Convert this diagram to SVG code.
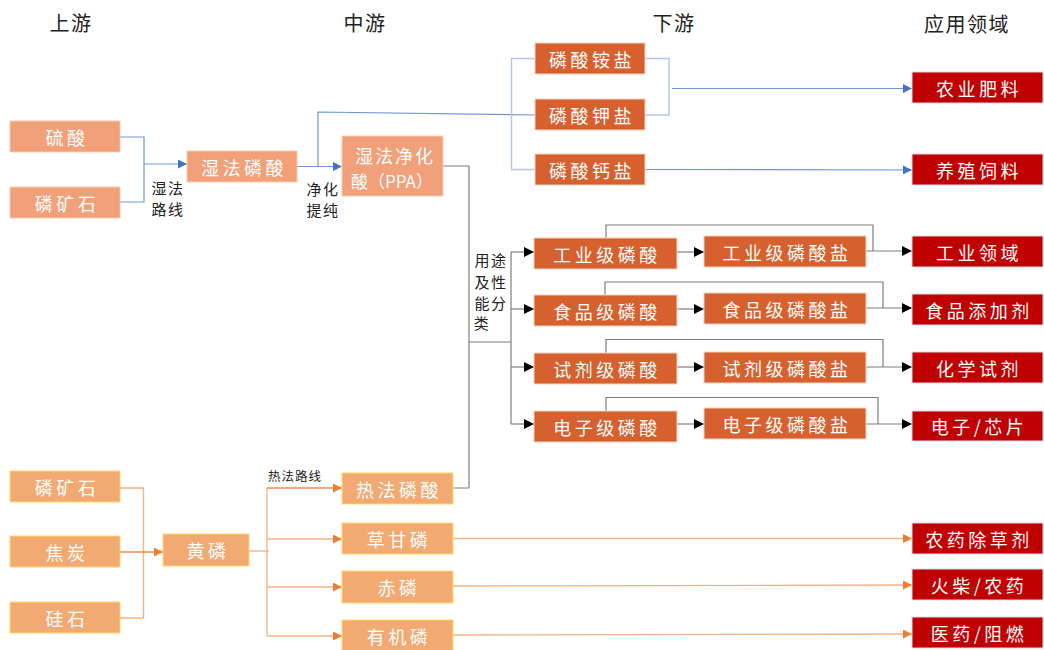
<svg xmlns="http://www.w3.org/2000/svg" width="1044" height="650" viewBox="0 0 1044 650">
<defs>
<style>
text{font-family:"Noto Sans CJK SC","Noto Sans",sans-serif;dominant-baseline:central;}
.hdr{font-size:20px;fill:#222;text-anchor:middle;letter-spacing:1.5px;}
.bt{font-size:18px;fill:#fff;text-anchor:middle;letter-spacing:3.5px;}
.lbl{font-size:15px;fill:#222;text-anchor:middle;letter-spacing:1.5px;}
.up1{fill:#F1A07A;stroke:#F8CBAD;stroke-width:1;}
.up2{fill:#F2AA72;stroke:#FFD966;stroke-width:1;}
.mid{fill:#D6612E;stroke:#F0D2C2;stroke-width:1;}
.app{fill:#C00000;stroke:#D9D9F0;stroke-width:1;}
.cb{fill:none;stroke:#6F95D6;stroke-width:1.2;}
.cbl{fill:none;stroke:#B4C7E7;stroke-width:1.5;}
.cg{fill:none;stroke:#7F7F7F;stroke-width:1.2;}
.co{fill:none;stroke:#F4B183;stroke-width:1.3;}
.com{fill:none;stroke:#F08A4B;stroke-width:1.3;}
</style>
<marker id="ab" viewBox="0 0 10 10" refX="10" refY="5" markerWidth="9" markerHeight="9" markerUnits="userSpaceOnUse" orient="auto"><path d="M0,0 L10,5 L0,10 z" fill="#4472C4"/></marker>
<marker id="ak" viewBox="0 0 10 10" refX="10" refY="5" markerWidth="10" markerHeight="10" markerUnits="userSpaceOnUse" orient="auto"><path d="M0,0 L10,5 L0,10 z" fill="#000"/></marker>
<marker id="ao" viewBox="0 0 10 10" refX="10" refY="5" markerWidth="9" markerHeight="9" markerUnits="userSpaceOnUse" orient="auto"><path d="M0,0 L10,5 L0,10 z" fill="#ED7D31"/></marker>
</defs>
<rect width="1044" height="650" fill="#fff"/>

<g id="headers">
<text class="hdr" x="71" y="22">上游</text>
<text class="hdr" x="365" y="22">中游</text>
<text class="hdr" x="674" y="22">下游</text>
<text class="hdr" x="967" y="23">应用领域</text>
</g>

<g id="connectors">
<polyline class="cb" points="120,137 144,137 144,202 120,202"/>
<line class="cb" x1="144" y1="164" x2="187" y2="164" marker-end="url(#ab)"/>
<line class="cb" x1="297" y1="166.5" x2="342" y2="166.5" marker-end="url(#ab)"/>
<polyline class="cb" points="318,166.5 318,112 535,115"/>
<polyline class="cbl" points="535,58.5 511.5,58.5 511.5,169.5 535,169.5"/>
<polyline class="cbl" points="645,58.5 669,58.5 669,115 645,115"/>
<line class="cb" x1="672" y1="88.5" x2="912" y2="88.5" stroke="#4472C4" marker-end="url(#ab)"/>
<line class="cb" x1="645" y1="169.5" x2="912" y2="170" marker-end="url(#ab)"/>

<polyline class="cg" points="443,166 469,166 469,488 453,488"/>
<line class="cg" x1="469" y1="342" x2="511" y2="342"/>
<line class="cg" x1="511" y1="252" x2="511" y2="424"/>
<line class="cg" x1="511" y1="252" x2="534" y2="252" marker-end="url(#ak)"/>
<line class="cg" x1="511" y1="309" x2="534" y2="309" marker-end="url(#ak)"/>
<line class="cg" x1="511" y1="367" x2="534" y2="367" marker-end="url(#ak)"/>
<line class="cg" x1="511" y1="424" x2="534" y2="424" marker-end="url(#ak)"/>
<line class="cg" x1="677" y1="252" x2="704" y2="252" marker-end="url(#ak)"/>
<line class="cg" x1="677" y1="309" x2="704" y2="309" marker-end="url(#ak)"/>
<line class="cg" x1="677" y1="367" x2="704" y2="367" marker-end="url(#ak)"/>
<line class="cg" x1="677" y1="424" x2="704" y2="424" marker-end="url(#ak)"/>
<polyline class="cg" points="606,238 606,225 873,225 873,251"/>
<line class="cg" x1="866" y1="251" x2="912" y2="251" marker-end="url(#ak)"/>
<polyline class="cg" points="605,295 605,282 883,282 883,308"/>
<line class="cg" x1="866" y1="308" x2="912" y2="308" marker-end="url(#ak)"/>
<polyline class="cg" points="606,353 606,339.5 883,339.5 883,367"/>
<line class="cg" x1="866" y1="367" x2="912" y2="367" marker-end="url(#ak)"/>
<polyline class="cg" points="606,411 606,397.5 878,397.5 878,424"/>
<line class="cg" x1="866" y1="424" x2="912" y2="424" marker-end="url(#ak)"/>

<polyline class="co" points="120,488 143.5,488 143.5,618 120,618"/>
<line class="com" x1="120" y1="552" x2="163" y2="552" marker-end="url(#ao)"/>
<line class="co" x1="249" y1="551" x2="269" y2="551"/>
<line class="co" x1="267" y1="488" x2="267" y2="636"/>
<line class="com" x1="267" y1="488" x2="342" y2="488" marker-end="url(#ao)"/>
<line class="co" x1="267" y1="539" x2="342" y2="539" marker-end="url(#ao)"/>
<line class="co" x1="267" y1="587" x2="342" y2="587" marker-end="url(#ao)"/>
<line class="co" x1="267" y1="636" x2="342" y2="636" marker-end="url(#ao)"/>
<line class="co" x1="453" y1="538.5" x2="912" y2="538.5" marker-end="url(#ao)"/>
<line class="co" x1="453" y1="586" x2="912" y2="585" marker-end="url(#ao)"/>
<line class="co" x1="453" y1="635" x2="912" y2="634" marker-end="url(#ao)"/>
</g>

<g id="labels">
<text class="lbl" x="168" y="187">湿法</text>
<text class="lbl" x="168" y="208">路线</text>
<text class="lbl" x="323" y="188">净化</text>
<text class="lbl" x="323" y="209">提纯</text>
<text class="lbl" x="491" y="259">用途</text>
<text class="lbl" x="491" y="281">及性</text>
<text class="lbl" x="491" y="302">能分</text>
<text class="lbl" x="482" y="322">类</text>
<text x="268" y="475" style="font-size:12.5px;fill:#222;letter-spacing:1px;">热法路线</text>
</g>

<g id="n-liusuan"><rect class="up1" x="10" y="121" width="110" height="31"/><text class="bt" x="67" y="137">硫酸</text></g>
<g id="n-linkuangshi-1"><rect class="up1" x="10" y="187" width="110" height="31"/><text class="bt" x="67" y="203">磷矿石</text></g>
<g id="n-shifalinsuan"><rect class="up1" x="187" y="151" width="110" height="31"/><text class="bt" x="244" y="167">湿法磷酸</text></g>
<g id="n-ppa"><rect class="up1" x="342" y="136" width="101" height="60"/><text class="bt" x="395" y="155" style="letter-spacing:2px">湿法净化</text><text x="392" y="180" style="font-size:17px;fill:#fff;text-anchor:middle;">酸（PPA）</text></g>

<g id="n-linsuananyan"><rect class="mid" x="535" y="43" width="110" height="31"/><text class="bt" x="592" y="59">磷酸铵盐</text></g>
<g id="n-linsuanjiayan"><rect class="mid" x="535" y="99" width="110" height="31"/><text class="bt" x="592" y="115">磷酸钾盐</text></g>
<g id="n-linsuangaiyan"><rect class="mid" x="535" y="154" width="110" height="31"/><text class="bt" x="592" y="170">磷酸钙盐</text></g>

<g id="n-gongye-ls"><rect class="mid" x="534" y="238" width="143" height="31"/><text class="bt" x="607" y="254">工业级磷酸</text></g>
<g id="n-shipin-ls"><rect class="mid" x="534" y="295" width="143" height="31"/><text class="bt" x="607" y="311">食品级磷酸</text></g>
<g id="n-shiji-ls"><rect class="mid" x="534" y="353" width="143" height="31"/><text class="bt" x="607" y="369">试剂级磷酸</text></g>
<g id="n-dianzi-ls"><rect class="mid" x="534" y="411" width="143" height="31"/><text class="bt" x="607" y="427">电子级磷酸</text></g>

<g id="n-gongye-lsy"><rect class="mid" x="704" y="236" width="162" height="31"/><text class="bt" x="787" y="252">工业级磷酸盐</text></g>
<g id="n-shipin-lsy"><rect class="mid" x="704" y="293" width="162" height="31"/><text class="bt" x="787" y="309">食品级磷酸盐</text></g>
<g id="n-shiji-lsy"><rect class="mid" x="704" y="352" width="162" height="31"/><text class="bt" x="787" y="368">试剂级磷酸盐</text></g>
<g id="n-dianzi-lsy"><rect class="mid" x="704" y="408" width="162" height="31"/><text class="bt" x="787" y="424">电子级磷酸盐</text></g>

<g id="n-nongyefeiliao"><rect class="app" x="912" y="72" width="131" height="31"/><text class="bt" x="979" y="88">农业肥料</text></g>
<g id="n-yangzhisiliao"><rect class="app" x="912" y="154" width="131" height="31"/><text class="bt" x="979" y="170">养殖饲料</text></g>
<g id="n-gongyelingyu"><rect class="app" x="912" y="236" width="131" height="31"/><text class="bt" x="979" y="252">工业领域</text></g>
<g id="n-shipintianjiaji"><rect class="app" x="912" y="294" width="131" height="31"/><text class="bt" x="979" y="310">食品添加剂</text></g>
<g id="n-huaxueshiji"><rect class="app" x="912" y="352" width="131" height="31"/><text class="bt" x="979" y="368">化学试剂</text></g>
<g id="n-dianzixinpian"><rect class="app" x="912" y="411" width="131" height="30"/><text class="bt" x="979" y="426">电子/芯片</text></g>
<g id="n-nongyaochucaoji"><rect class="app" x="912" y="523" width="131" height="31"/><text class="bt" x="979" y="539">农药除草剂</text></g>
<g id="n-huochainongyao"><rect class="app" x="912" y="569" width="131" height="31"/><text class="bt" x="979" y="585">火柴/农药</text></g>
<g id="n-yiyaozuran"><rect class="app" x="912" y="617" width="131" height="31"/><text class="bt" x="979" y="633">医药/阻燃</text></g>

<g id="n-linkuangshi-2"><rect class="up2" x="10" y="471" width="110" height="31"/><text class="bt" x="67" y="487">磷矿石</text></g>
<g id="n-jiaotan"><rect class="up2" x="10" y="536" width="110" height="31"/><text class="bt" x="67" y="552">焦炭</text></g>
<g id="n-guishi"><rect class="up2" x="10" y="602" width="110" height="31"/><text class="bt" x="67" y="618">硅石</text></g>
<g id="n-huanglin"><rect class="up2" x="163" y="534" width="86" height="32"/><text class="bt" x="208" y="550">黄磷</text></g>
<g id="n-refalinsuan"><rect class="up2" x="342" y="473" width="111" height="31"/><text class="bt" x="399" y="489">热法磷酸</text></g>
<g id="n-caoganlin"><rect class="up2" x="342" y="523" width="111" height="31"/><text class="bt" x="399" y="539">草甘磷</text></g>
<g id="n-chilin"><rect class="up2" x="342" y="571" width="111" height="32"/><text class="bt" x="399" y="587">赤磷</text></g>
<g id="n-youjilin"><rect class="up2" x="342" y="620" width="111" height="31"/><text class="bt" x="399" y="636">有机磷</text></g>
</svg>
